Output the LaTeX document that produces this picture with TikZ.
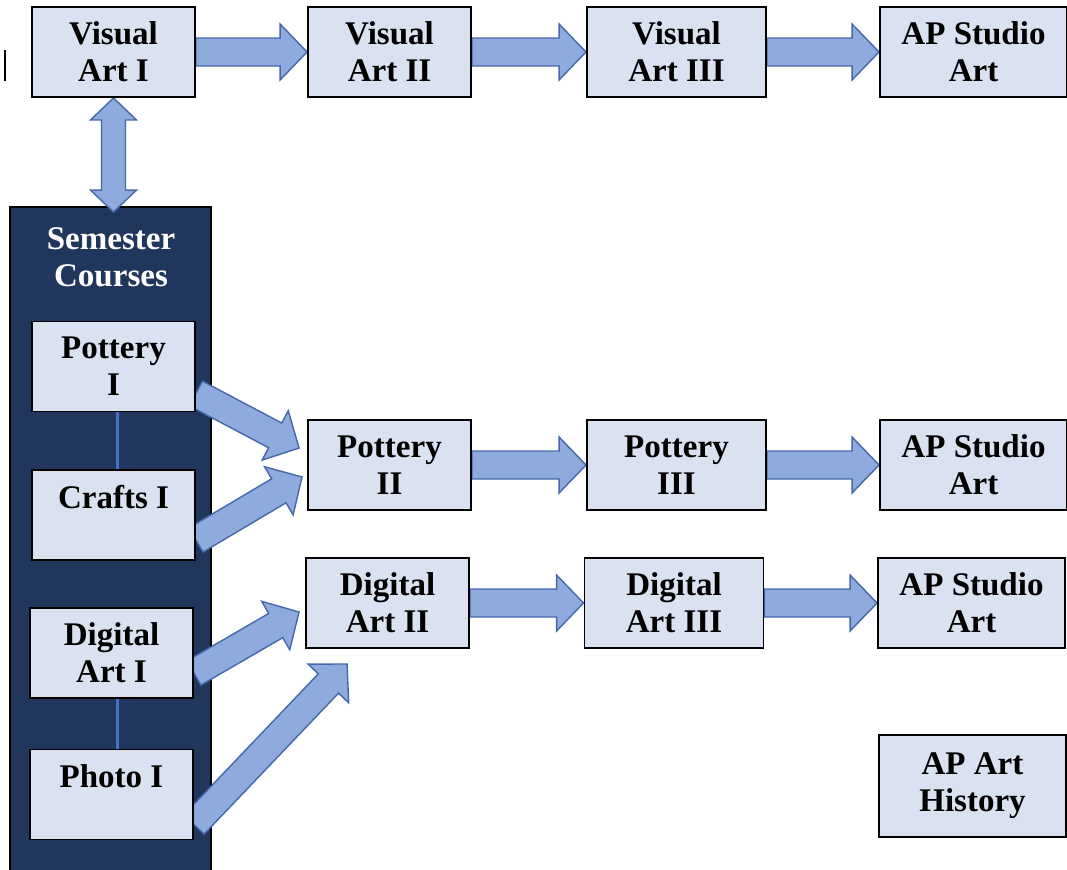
\documentclass[tikz,border=0pt]{standalone}
\usepackage{fontspec}
\setmainfont{Liberation Serif}
\usetikzlibrary{calc, positioning}
\definecolor{boxcolor}{RGB}{218,225,241}
\definecolor{arrowfill}{RGB}{143,170,220}
\definecolor{arrowline}{RGB}{68,104,170}
\definecolor{navy}{RGB}{33,54,92}
\definecolor{linkblue}{RGB}{68,114,196}
\pgfdeclarelayer{panel}
\pgfdeclarelayer{arrows}
\pgfsetlayers{panel,arrows,main}
\newcommand{\coursefont}{\fontsize{18.8}{21}\selectfont\bfseries}
% block arrow from #1 to #2
\newcommand{\blockarrow}[2]{%
  \coordinate (ba-s) at (#1);
  \coordinate (ba-t) at (#2);
  \coordinate (ba-h) at ($(ba-t)!0.54cm!(ba-s)$);
  \draw[blockarrow] ($(ba-s)!0.28cm!90:(ba-t)$) -- ($(ba-h)!0.28cm!90:(ba-t)$)
    -- ($(ba-h)!0.56cm!90:(ba-t)$) -- (ba-t) -- ($(ba-h)!0.56cm!-90:(ba-t)$)
    -- ($(ba-h)!0.28cm!-90:(ba-t)$) -- ($(ba-s)!0.28cm!-90:(ba-t)$) -- cycle;
}
% block arrow with heads at both ends
\newcommand{\blockarrowboth}[2]{%
  \coordinate (ba-s) at (#1);
  \coordinate (ba-t) at (#2);
  \coordinate (ba-h) at ($(ba-t)!0.44cm!(ba-s)$);
  \coordinate (ba-g) at ($(ba-s)!0.44cm!(ba-t)$);
  \draw[blockarrow] (ba-s) -- ($(ba-g)!0.46cm!90:(ba-t)$) -- ($(ba-g)!0.24cm!90:(ba-t)$)
    -- ($(ba-h)!0.24cm!-90:(ba-s)$) -- ($(ba-h)!0.46cm!-90:(ba-s)$) -- (ba-t)
    -- ($(ba-h)!0.46cm!90:(ba-s)$) -- ($(ba-h)!0.24cm!90:(ba-s)$)
    -- ($(ba-g)!0.24cm!-90:(ba-t)$) -- ($(ba-g)!0.46cm!-90:(ba-t)$) -- cycle;
}
\begin{document}
\begin{tikzpicture}[
    x=0.02cm, y=-0.02cm,
    course/.style={draw=black, line width=1.1pt, fill=boxcolor, minimum width=3.26cm, minimum height=1.8cm, align=center, inner sep=0pt, font=\coursefont},
    widecourse/.style={course, minimum width=3.58cm},
    apcourse/.style={course, minimum width=3.74cm},
    panel/.style={draw=black, line width=1.1pt, fill=navy, minimum width=4.02cm, minimum height=13.36cm, inner sep=0pt},
    blockarrow/.style={fill=arrowfill, draw=arrowline, line width=0.8pt, line join=miter},
    link/.style={draw=linkblue, line width=1.6pt}
]
    \useasboundingbox (0,0) rectangle (1067,869);
    \draw[line width=1.5pt] (5,50) -- (5,81);

    % Full-year sequence
    \node[course] (va1) at (113.5,52) {Visual\\Art I};
    \node[course] (va2) at (389.5,52) {Visual\\Art II};
    \node[widecourse] (va3) at (676.5,52) {Visual\\Art III};
    \node[apcourse] (ap1) at (973.5,52) {AP Studio\\Art};

    % Semester courses
    \begin{pgfonlayer}{panel}
        \node[panel] (sem) at (110.5,541) {};
    \end{pgfonlayer}
    \node[font=\coursefont, text=white, align=center] (semtitle) at (111,257) {Semester\\Courses};
    \node[course] (pot1) at (113.5,366.5) {Pottery\\I};
    \node[course] (crafts1) at (113.5,515) {Crafts I\\\mbox{}};
    \node[course] (dig1) at (111.5,653) {Digital\\Art I};
    \node[course] (photo1) at (111.5,794.5) {Photo I\\\mbox{}};

    % Pottery and digital sequences
    \node[course] (pot2) at (389.5,465) {Pottery\\II};
    \node[widecourse] (pot3) at (676.5,465) {Pottery\\III};
    \node[apcourse] (ap2) at (973.5,465) {AP Studio\\Art};
    \node[course] (dig2) at (387.5,603) {Digital\\Art II};
    \node[widecourse] (dig3) at (674,603) {Digital\\Art III};
    \node[apcourse] (ap3) at (971.5,603) {AP Studio\\Art};
    \node[apcourse, minimum height=2.04cm] (aphist) at (972.5,786) {AP Art\\History};

    % Arrows
    \begin{pgfonlayer}{arrows}
        \blockarrow{va1.east}{va2.west}
        \blockarrow{va2.east}{va3.west}
        \blockarrow{va3.east}{ap1.west}
        \blockarrowboth{va1.south}{$(va1.south |- sem.north)+(0,6)$}
        \blockarrow{pot2.east}{pot3.west}
        \blockarrow{pot3.east}{ap2.west}
        \blockarrow{dig2.east}{dig3.west}
        \blockarrow{dig3.east}{ap3.west}
        \blockarrow{$(pot1.east)+(0,27)$}{$(pot2.west)+(-8,-17)$}
        \blockarrow{$(crafts1.east)+(0,25)$}{$(pot2.west)+(-5,12)$}
        \blockarrow{$(dig1.east)+(0,20)$}{$(dig2.west)+(-6,9)$}
        \blockarrow{$(photo1.east)+(0,30)$}{$(dig2.south west)+(42,15)$}
        \draw[link] ($(pot1.south)+(4,0)$) -- ($(crafts1.north)+(4,0)$);
        \draw[link] ($(dig1.south)+(6,0)$) -- ($(photo1.north)+(6,0)$);
    \end{pgfonlayer}
\end{tikzpicture}
\end{document}
